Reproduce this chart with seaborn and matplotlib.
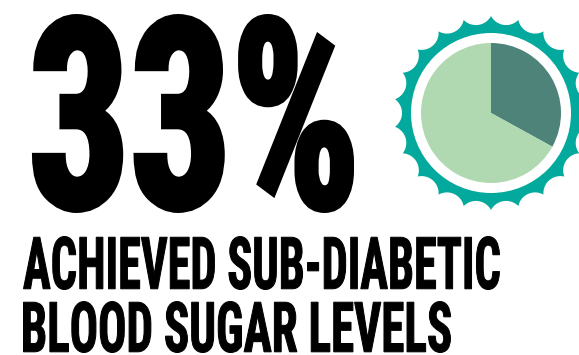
import numpy as np
import matplotlib
matplotlib.use('Agg')
import matplotlib.pyplot as plt
import seaborn as sns
from matplotlib.textpath import TextPath
from matplotlib.patches import PathPatch, Polygon, Circle
from matplotlib.font_manager import FontProperties, findfont
from matplotlib.transforms import Affine2D

# data
share_labels = ['Sub-diabetic', 'Not sub-diabetic']
share_values = [33, 67]
share_colors = ['#4E8379', '#B0D9B1']
badge_color = '#02A99C'
headline = '33%'
caption_lines = ['ACHIEVED SUB-DIABETIC', 'BLOOD SUGAR LEVELS']

W, H, DPI = 579, 355, 100


def pick_font(weight='bold'):
    # use a condensed face when one is there, plain bold otherwise
    for fam in ['Roboto Condensed', 'Liberation Sans Narrow',
                'DejaVu Sans Condensed', 'DejaVu Sans']:
        fp = FontProperties(family=fam, weight=weight)
        try:
            findfont(fp, fallback_to_default=False)
            return fp
        except ValueError:
            continue
    return FontProperties(weight=weight)


def fit_text(ax, text, fp, left, top, right, bottom, stroke=0.0):
    # squeeze the glyph outlines into a pixel box (y axis points down)
    path = TextPath((0, 0), text, size=100, prop=fp)
    ext = path.get_extents()
    pad = stroke / 2
    sx = (right - left - 2 * pad) / ext.width
    sy = (bottom - top - 2 * pad) / ext.height
    tr = (Affine2D().translate(-ext.x0, -ext.y0)
          .scale(sx, -sy).translate(left + pad, bottom - pad))
    ax.add_patch(PathPatch(tr.transform_path(path), facecolor='black',
                           edgecolor='black', lw=stroke * 72 / DPI,
                           joinstyle='miter'))


def scallop(n=22, r_tip=97, r_valley=89):
    alpha = np.pi / n
    d = (r_valley**2 - r_tip**2) / (2 * (r_valley - r_tip * np.cos(alpha)))
    r = d - r_valley
    t_tip = np.arctan2(r_tip * np.sin(alpha), r_tip * np.cos(alpha) - d)
    pts = []
    for k in range(n):
        phi = np.pi / 2 + (k + 0.5) * 2 * alpha
        cx, cy = d * np.cos(phi), d * np.sin(phi)
        t = np.linspace(2 * np.pi - t_tip, t_tip, 30)
        pts.append(np.column_stack([cx + r * np.cos(t + phi),
                                    cy + r * np.sin(t + phi)]))
    return np.vstack(pts)


sns.set_theme(style='white')

fig = plt.figure(figsize=(W / DPI, H / DPI), dpi=DPI)
fig.patch.set_facecolor('white')

ax = fig.add_axes([0, 0, 1, 1])
ax.set_xlim(0, W)
ax.set_ylim(H, 0)
ax.axis('off')

font = pick_font('bold')
fit_text(ax, headline, font, 32, 14, 354, 213, stroke=6)
fit_text(ax, caption_lines[0], font, 23, 236, 500, 290, stroke=1)
fit_text(ax, caption_lines[1], font, 23, 301, 451, 353, stroke=1)

# badge with the pie
cx, cy, R = 491, 113, 100
bx = fig.add_axes([(cx - R) / W, (H - cy - R) / H, 2 * R / W, 2 * R / H])
bx.add_patch(Polygon(scallop(), closed=True, facecolor=badge_color,
                     edgecolor='none'))
bx.add_patch(Circle((0, 0), 80, facecolor='white', edgecolor='none'))
bx.pie(share_values, labels=None, colors=share_colors, startangle=90,
       counterclock=False, radius=70, center=(0, 0),
       wedgeprops=dict(linewidth=0, edgecolor='none'))
bx.set_xlim(-R, R)
bx.set_ylim(-R, R)
bx.set_aspect('auto')
bx.axis('off')

fig.savefig('out.png', dpi=DPI, facecolor='white')
